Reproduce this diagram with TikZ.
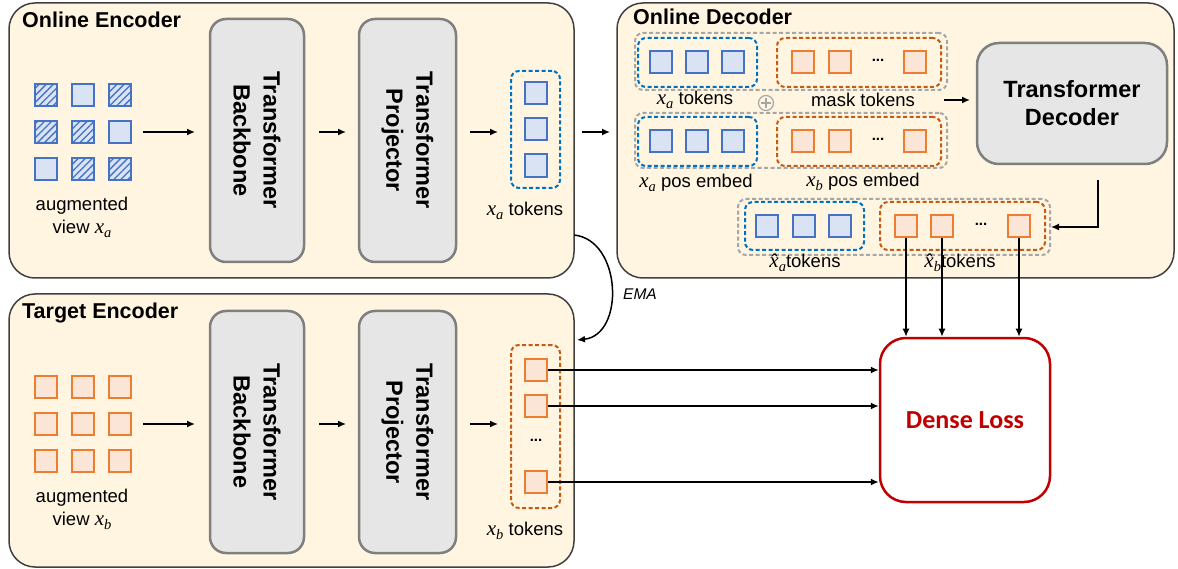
\documentclass[tikz,border=0pt]{standalone}
\usepackage{fontspec}
\setmainfont{Liberation Sans}
\newfontfamily\calibfont{Carlito}
\newfontfamily\mvarfont{Liberation Serif}
\newcommand{\myvar}[1]{{\mvarfont\itshape\fontsize{21}{23}\selectfont x}{\mvarfont\itshape\fontsize{14.5}{16}\selectfont\raisebox{-4pt}{#1}}}
\newcommand{\myhvar}[1]{{\mvarfont\itshape\fontsize{21}{23}\selectfont \^{x}}{\mvarfont\itshape\fontsize{14.5}{16}\selectfont\raisebox{-4pt}{#1}}}
\usetikzlibrary{patterns.meta,arrows.meta,calc}
\definecolor{cream}{HTML}{FFF5E1}
\definecolor{frame}{HTML}{404040}
\definecolor{gbox}{HTML}{E6E6E6}
\definecolor{gboxb}{HTML}{7F7F7F}
\definecolor{bfill}{HTML}{DAE3F3}
\definecolor{bline}{HTML}{4472C4}
\definecolor{bdash}{HTML}{0070C0}
\definecolor{ofill}{HTML}{FBE5D6}
\definecolor{oline}{HTML}{ED7D31}
\definecolor{odash}{HTML}{C55A11}
\definecolor{gdash}{HTML}{A6A6A6}
\definecolor{lossred}{HTML}{C00000}
\tikzset{
 panel/.style={draw=frame,fill=cream,line width=1.5pt,rounded corners=26pt,inner sep=0},
 tbox/.style={draw=gboxb,fill=gbox,line width=2.5pt,rounded corners=16pt,inner sep=0},
 sqb/.style={draw=bline,fill=bfill,line width=1.8pt,minimum size=22.5pt,inner sep=0},
 sqbh/.style={sqb,postaction={pattern={Lines[angle=45,distance=5pt,line width=1.3pt]},pattern color=bline}},
 sqo/.style={draw=oline,fill=ofill,line width=1.8pt,minimum size=22.5pt,inner sep=0},
 dashb/.style={draw=bdash,line width=2pt,dash pattern=on 4pt off 2.5pt,rounded corners=8pt,inner sep=0},
 dasho/.style={dashb,draw=odash},
 dashg/.style={dashb,draw=gdash},
 lab/.style={font=\fontsize{18.5}{23}\selectfont,align=center,inner sep=0},
 ttl/.style={font=\fontsize{21.5}{24}\selectfont\bfseries,anchor=west,inner sep=0},
 rot/.style={font=\fontsize{23.5}{30}\selectfont\bfseries,align=center,rotate=-90,inner sep=0},
 dotsn/.style={font=\fontsize{15}{15}\selectfont\bfseries,inner sep=0},
 arr/.style={line width=1.5pt,-{Latex[length=8pt,width=7pt]}},
}
\begin{document}
\begin{tikzpicture}[x=1pt,y=-1pt]
\useasboundingbox (0,0) rectangle (1178,569);

% ---------- panels
\node[panel,minimum width=565pt,minimum height=275pt] (oe) at (291.5,140.5) {};
\node[panel,minimum width=565pt,minimum height=273pt] (te) at (291.5,430.5) {};
\node[panel,minimum width=557pt,minimum height=275pt] (od) at (895.5,140.5) {};
\node[ttl] (oet) at (22,20) {Online Encoder};
\node[ttl] (tet) at (22,313) {Target Encoder};
\node[ttl] (odt) at (633,17) {Online Decoder};

% ---------- online encoder
\node[sqbh] (a11) at (46,95) {};  \node[sqb] (a12) at (83,95) {};   \node[sqbh] (a13) at (120,95) {};
\node[sqbh] (a21) at (46,132) {}; \node[sqbh] (a22) at (83,132) {}; \node[sqb] (a23) at (120,132) {};
\node[sqb] (a31) at (46,169) {};  \node[sqbh] (a32) at (83,169) {}; \node[sqbh] (a33) at (120,169) {};
\node[lab] (avl) at (82,217.5) {augmented\\view \myvar{a}};
\node[tbox,minimum width=94pt,minimum height=243pt] (obb) at (257,140.5) {};
\node[rot] (obbt) at (obb) {Transformer\\Backbone};
\node[tbox,minimum width=97pt,minimum height=243pt] (opj) at (407.5,140.5) {};
\node[rot] (opjt) at (opj) {Transformer\\Projector};
\node[dashb,minimum width=49pt,minimum height=117pt] (xa) at (535.5,129.5) {};
\node[sqb] (xa1) at (536,93) {};
\node[sqb] (xa2) at (536,129) {};
\node[sqb] (xa3) at (536,165.5) {};
\node[lab] (xal) at (525,211) {\myvar{a} tokens};

% ---------- target encoder
\foreach \yy [count=\j] in {387,424,461}{
  \foreach \xx [count=\i] in {46,83,120}{
    \node[sqo] (b\j\i) at (\xx,\yy) {};
  }
}
\node[lab] (bvl) at (82,509.5) {augmented\\view \myvar{b}};
\node[tbox,minimum width=94pt,minimum height=242pt] (tbb) at (257,432) {};
\node[rot] (tbbt) at (tbb) {Transformer\\Backbone};
\node[tbox,minimum width=97pt,minimum height=242pt] (tpj) at (407.5,432) {};
\node[rot] (tpjt) at (tpj) {Transformer\\Projector};
\node[dasho,minimum width=49pt,minimum height=163pt] (xb) at (535.5,426.5) {};
\node[sqo] (xb1) at (536,370) {};
\node[sqo] (xb2) at (536,406) {};
\node[dotsn] (xbd) at (536,440) {...};
\node[sqo] (xb4) at (536,482) {};
\node[lab] (xbl) at (525,531) {\myvar{b} tokens};

% ---------- online decoder
% row 1
\node[dashg,minimum width=312pt,minimum height=57pt] (r1) at (791,61.5) {};
\node[dashb,minimum width=119pt,minimum height=49pt] (r1b) at (697.5,62.5) {};
\node[dasho,minimum width=164pt,minimum height=49pt] (r1o) at (859,62.5) {};
\node[sqb] (p1) at (661,62) {}; \node[sqb] (p2) at (697,62) {}; \node[sqb] (p3) at (733,62) {};
\node[sqo] (q1) at (803,62) {}; \node[sqo] (q2) at (840,62) {}; \node[sqo] (q3) at (915,62) {};
\node[dotsn] (qd) at (878,60) {...};
\node[lab] (r1l1) at (695,100) {\myvar{a} tokens};
\node[lab] (r1l2) at (863,100) {mask tokens};
\node[circle,draw=gdash,line width=1.2pt,minimum size=15pt,inner sep=0] (plus) at (766,103) {};
\draw[gdash,line width=1.2pt] ($(plus.center)+(-5,0)$) -- ($(plus.center)+(5,0)$)
  ($(plus.center)+(0,-5)$) -- ($(plus.center)+(0,5)$);
% row 2
\node[dashg,minimum width=312pt,minimum height=55pt] (r2) at (791,140.5) {};
\node[dashb,minimum width=119pt,minimum height=49pt] (r2b) at (697.5,141.5) {};
\node[dasho,minimum width=164pt,minimum height=49pt] (r2o) at (859,141.5) {};
\node[sqb] (s1) at (661,141) {}; \node[sqb] (s2) at (697,141) {}; \node[sqb] (s3) at (733,141) {};
\node[sqo] (u1) at (803,141) {}; \node[sqo] (u2) at (840,141) {}; \node[sqo] (u3) at (915,141) {};
\node[dotsn] (ud) at (878,139) {...};
\node[lab] (r2l1) at (696,183) {\myvar{a} pos embed};
\node[lab] (r2l2) at (863,182) {\myvar{b} pos embed};
% decoder
\node[tbox,rounded corners=22pt,minimum width=190pt,minimum height=121pt,
  font=\fontsize{23.5}{28}\selectfont\bfseries,align=center] (dec) at (1072,103.5) {Transformer\\Decoder};
% row 3
\node[dashg,minimum width=312pt,minimum height=56pt] (r3) at (894,227) {};
\node[dashb,minimum width=119pt,minimum height=48pt] (r3b) at (804.5,226) {};
\node[dasho,minimum width=165pt,minimum height=48pt] (r3o) at (962.5,226) {};
\node[sqb] (v1) at (767,226) {}; \node[sqb] (v2) at (804,226) {}; \node[sqb] (v3) at (840,226) {};
\node[sqo] (w1) at (906,226) {}; \node[sqo] (w2) at (942,226) {}; \node[sqo] (w3) at (1019,226) {};
\node[dotsn] (wd) at (981,224) {...};
\node[lab] (r3l1) at (805,263) {\myhvar{a}tokens};
\node[lab] (r3l2) at (960,263) {\myhvar{b}tokens};

% ---------- dense loss
\node[draw=lossred,fill=white,line width=2.5pt,rounded corners=26pt,minimum width=170pt,minimum height=164pt,
  font=\calibfont\fontsize{26}{30}\selectfont\bfseries,text=lossred] (loss) at (965,420) {Dense Loss};

% ---------- arrows
\coordinate (e1s) at (143,132); \coordinate (e1e) at (195,132);
\coordinate (e2s) at (319,132); \coordinate (e2e) at (346,132);
\coordinate (e3s) at (470,132); \coordinate (e3e) at (498,132);
\coordinate (e4s) at (582,132); \coordinate (e4e) at (610,132);
\coordinate (t1s) at (143,424); \coordinate (t1e) at (195,424);
\coordinate (t2s) at (319,424); \coordinate (t2e) at (346,424);
\coordinate (t3s) at (470,424); \coordinate (t3e) at (498,424);
\draw[arr] (e1s) -- (e1e);
\draw[arr] (e2s) -- (e2e);
\draw[arr] (e3s) -- (e3e);
\draw[arr] (e4s) -- (e4e);
\draw[arr] (t1s) -- (t1e);
\draw[arr] (t2s) -- (t2e);
\draw[arr] (t3s) -- (t3e);
\coordinate (m1s) at (944,100); \coordinate (m1e) at (970,100);
\draw[arr] (m1s) -- (m1e);
\coordinate (d1) at (1098,180);
\draw[arr] (d1) |- (r3.east);
\draw[arr] (w1.south) -- (w1.south |- loss.north);
\draw[arr] (w2.south) -- (w2.south |- loss.north);
\draw[arr] (w3.south) -- (w3.south |- loss.north);
\draw[arr] (xb1.east) -- (xb1.east -| loss.west);
\draw[arr] (xb2.east) -- (xb2.east -| loss.west);
\draw[arr] (xb4.east) -- (xb4.east -| loss.west);
% EMA
\coordinate (ema1) at (574,235); \coordinate (ema2) at (577,340);
\draw[arr] (ema1) .. controls (622,240) and (625,335) .. (ema2);
\node[font=\fontsize{15.5}{18}\selectfont\itshape,inner sep=0] (emal) at (640,294) {EMA};
\end{tikzpicture}
\end{document}
